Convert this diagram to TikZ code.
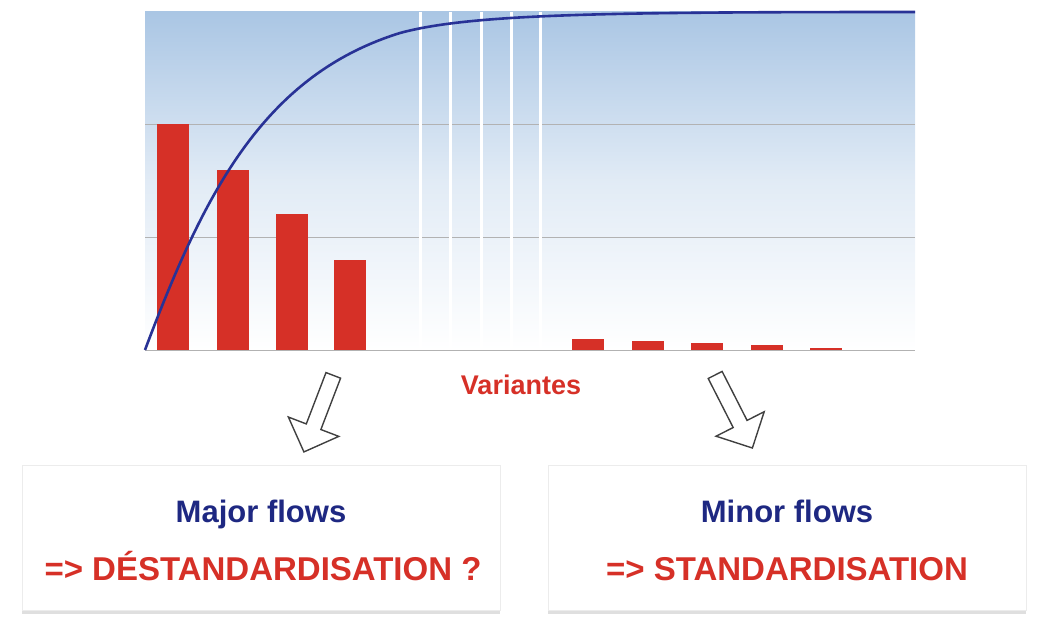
\documentclass[tikz,border=0pt]{standalone}
\usepackage{fontspec}
\setmainfont{Liberation Sans}
\usetikzlibrary{shapes.arrows,shadows,positioning}
\definecolor{barred}{RGB}{214,48,39}
\definecolor{curveblue}{RGB}{40,50,150}
\definecolor{topblue}{RGB}{170,198,228}
\definecolor{navytext}{RGB}{30,40,130}
\begin{document}
\begin{tikzpicture}[x=1pt,y=-1pt,
    bar/.style={fill=barred, draw=none},
    flowbox/.style={draw=gray!15, fill=white, minimum width=478pt, minimum height=145pt,
      drop shadow={shadow xshift=0pt, shadow yshift=-3pt, opacity=0.25}},
    hollowarrow/.style={single arrow, draw=gray!50!black, fill=white, line width=1.4pt,
      minimum height=82pt, minimum width=54pt, single arrow head extend=14pt, inner sep=5pt},
    majortext/.style={anchor=base, font=\bfseries\fontsize{31}{34}\selectfont, text=navytext},
    minortext/.style={anchor=base, font=\bfseries\fontsize{33}{36}\selectfont, text=barred}]
  \useasboundingbox (0,0) rectangle (1050,634);
  % chart background
  \shade[top color=topblue, bottom color=white, middle color=topblue!35] (145,12) rectangle (915,350);
  \foreach \y in {124,237} \draw[gray!60, line width=0.6pt] (145,\y) -- (915,\y);
  \draw[gray!60, line width=0.6pt] (145,350) -- (915,350);
  \foreach \x in {420,450,481,511,540} \draw[white, line width=3pt] (\x,12) -- (\x,350);
  % bars
  \foreach \x/\t in {157/124,217/170,276/214,334/260,572/339,632/341,691/343,751/345,810/348}
    \fill[bar] (\x,\t) rectangle ++(32,350-\t);
  % cumulative curve
  \draw[curveblue, line width=2.6pt] (145,350) .. controls (205,190) and (265,75) .. (400,33)
    .. controls (470,14) and (600,12) .. (915,12);
  \node (var) [text=barred, font=\bfseries\fontsize{27}{30}\selectfont] at (521,385) {Variantes};
  % arrows
  \node (arrL) [hollowarrow, rotate=-111] at (320,410) {};
  \node (arrR) [hollowarrow, rotate=-63] at (732,408) {};
  % boxes
  \node (major) [flowbox] at (261,538) {};
  \node (minor) [flowbox] at (787,538) {};
  \node [majortext] at (261,522) {Major flows};
  \node [minortext] at (263,580) {=> DÉSTANDARDISATION ?};
  \node [majortext] at (787,522) {Minor flows};
  \node [minortext] at (787,580) {=> STANDARDISATION};
\end{tikzpicture}
\end{document}
